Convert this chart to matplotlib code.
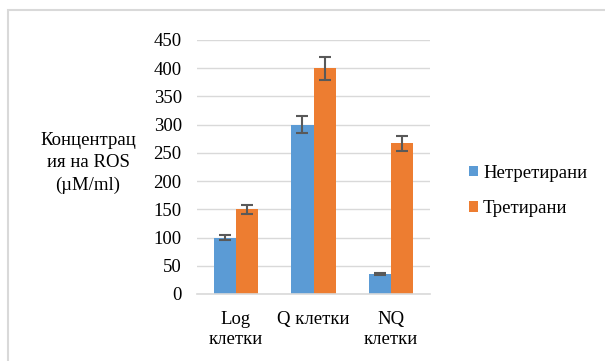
import matplotlib
matplotlib.use("Agg")
import matplotlib.pyplot as plt
from matplotlib.patches import Rectangle
import numpy as np

plt.rcParams['font.family'] = ['Liberation Serif', 'DejaVu Serif']

categories = ["Log\nклетки", "Q клетки", "NQ\nклетки"]
untreated = [100, 300, 35]
treated = [150, 400, 267]
untreated_err = [4, 15, 1.5]
treated_err = [8, 20, 13]
series_names = ["Нетретирани", "Третирани"]
yticks = [0, 50, 100, 150, 200, 250, 300, 350, 400, 450]

W, H = 605, 361
FS = 13.5
FAM = ['Liberation Serif', 'DejaVu Serif']
fig = plt.figure(figsize=(W / 100, H / 100), dpi=100)

# chart border (top & left visible)
fig.patches.append(Rectangle((8 / W, -0.1), 1.2, (H - 10) / H + 0.1, transform=fig.transFigure,
                             fill=False, edgecolor="#D9D9D9", linewidth=1.5))

ax = fig.add_axes([197 / W, 1 - 294 / H, (430 - 197) / W, (294 - 40) / H])
x = np.arange(len(categories))
bw = 0.284
blue = "#5B9BD5"
orange = "#ED7D31"
ecol = "#595959"
ax.bar(x - bw / 2, untreated, bw, color=blue, label=series_names[0], zorder=3)
ax.bar(x + bw / 2, treated, bw, color=orange, label=series_names[1], zorder=3)
ax.errorbar(x - bw / 2, untreated, yerr=untreated_err, fmt="none", ecolor=ecol,
            elinewidth=1.5, capsize=4, capthick=1.5, zorder=4)
ax.errorbar(x + bw / 2, treated, yerr=treated_err, fmt="none", ecolor=ecol,
            elinewidth=1.5, capsize=4, capthick=1.5, zorder=4)

ax.set_xlim(-0.5, 2.5)
ax.set_ylim(0, 450)
ax.set_yticks(yticks)
ax.set_yticklabels([str(v) for v in yticks], fontsize=FS, family=FAM)
ax.set_xticks(x)
ax.set_xticklabels(categories, fontsize=FS, linespacing=1.25, va="top", family=FAM)
ax.tick_params(axis="y", length=0, pad=11)
ax.tick_params(axis="x", length=0, pad=12)
ax.yaxis.grid(True, color="#D9D9D9", linewidth=1, zorder=0)
for s in ["top", "right", "left"]:
    ax.spines[s].set_visible(False)
ax.spines["bottom"].set_color("#D9D9D9")
ax.spines["bottom"].set_linewidth(1.2)
ax.spines["bottom"].set_zorder(3)

fig.text(88 / W, 1 - 163 / H, "Концентрац\nия на ROS\n(µM/ml)", fontsize=FS,
         ha="center", va="center", linespacing=1.4, family=FAM)

handles, labels = ax.get_legend_handles_labels()
fig.legend(handles, labels, loc="center left", bbox_to_anchor=(469 / W, 1 - 191 / H),
           frameon=False, prop={'family': FAM, 'size': FS}, handlelength=0.5, handleheight=0.5,
           handletextpad=0.25, labelspacing=1.0, borderaxespad=0, borderpad=0)

fig.savefig("out.png", dpi=100)
